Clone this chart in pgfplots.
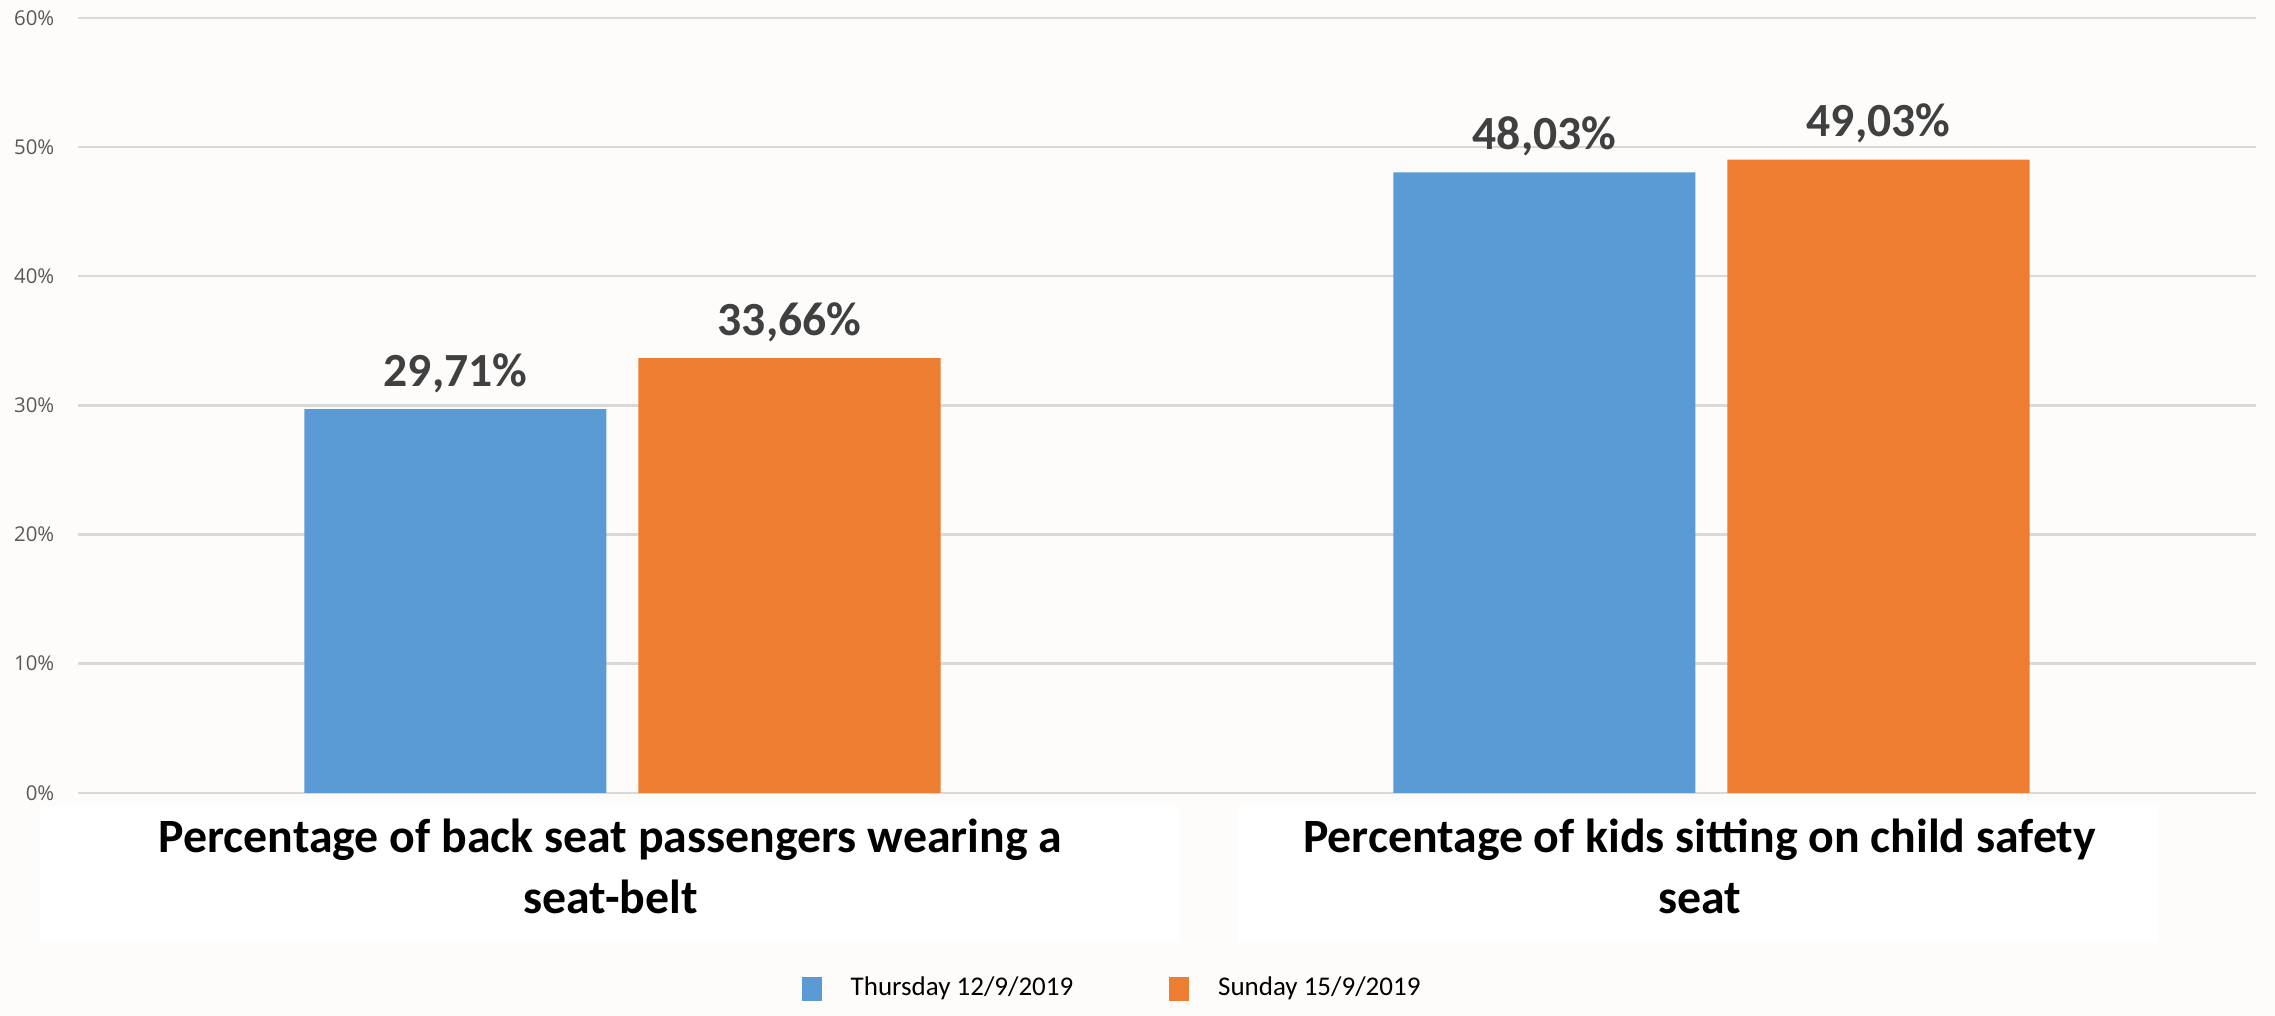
\documentclass[border=0pt]{standalone}
\usepackage{pgfplots}
\pgfplotsset{compat=1.18}
\usepackage{fontspec}
\setmainfont{Carlito}
\newfontfamily\ticksfont{Open Sans}
\definecolor{bgc}{RGB}{253,252,250}
\definecolor{barblue}{RGB}{91,155,213}
\definecolor{barorange}{RGB}{237,125,49}
\definecolor{gridc}{RGB}{217,217,217}
\definecolor{ticktext}{RGB}{89,89,89}
\definecolor{labtext}{RGB}{64,64,64}
\begin{document}
\begin{tikzpicture}
% page background (2275 x 1016 px at 0.25pt/px)
\fill[bgc] (-19.5pt,-55.8pt) rectangle (549.25pt,198.2pt);
\useasboundingbox (-19.5pt,-55.8pt) rectangle (549.25pt,198.2pt);
% white boxes behind category labels
\fill[white] (-9.5pt,-3.6pt) rectangle (275.5pt,-37.6pt);
\fill[white] (290pt,-3.6pt) rectangle (520.25pt,-37.6pt);
\begin{axis}[
  at={(0,0)}, anchor=south west,
  scale only axis,
  width=544.5pt, height=193.75pt,
  ybar=8pt, bar width=75.5pt,
  xmin=-0.5, xmax=1.5,
  ymin=0, ymax=60,
  xtick={0,1},
  xticklabels={{Percentage of back seat passengers wearing a\\seat-belt},{Percentage of kids sitting on child safety\\seat}},
  ytick={0,10,20,30,40,50,60},
  yticklabel={\pgfmathprintnumber{\tick}\%},
  /pgf/number format/assume math mode=true,
  axis line style={draw=none},
  major tick length=0pt,
  ymajorgrids, grid style={gridc, line width=0.6pt},
  yticklabel style={font=\ticksfont\fontsize{5.1}{6}\selectfont, color=ticktext, xshift=-2.4pt},
  xticklabel style={font=\fontsize{11.95}{15.25}\selectfont\bfseries, align=center, text=black, anchor=north, yshift=-3pt, xshift=-3pt},
  nodes near coords={\pgfmathprintnumber[fixed,fixed zerofill,precision=2,use comma,assume math mode=true]{\pgfplotspointmeta}\%},
  nodes near coords style={font=\fontsize{11.9}{14}\selectfont\bfseries, text=labtext, anchor=base, yshift=5.75pt, inner sep=0pt},
  legend style={at={(0.332,-0.253)}, anchor=west, draw=none, fill=none, inner sep=0pt, legend columns=2,
    font=\fontsize{6.75}{8}\selectfont, cells={anchor=west, inner sep=0pt},
    /tikz/every even column/.append style={column sep=22pt}},
  legend image code/.code={\fill[#1,draw=none] (0pt,-3pt) rectangle (5pt,3pt); \path[draw=none,fill=none] (0pt,0pt) rectangle (10.2pt,0.1pt);},
]
\addplot[fill=barblue, draw=none] coordinates {(0,29.71) (1,48.03)};
\addplot[fill=barorange, draw=none] coordinates {(0,33.66) (1,49.03)};
\legend{Thursday 12/9/2019, Sunday 15/9/2019}
\end{axis}
\end{tikzpicture}
\end{document}
